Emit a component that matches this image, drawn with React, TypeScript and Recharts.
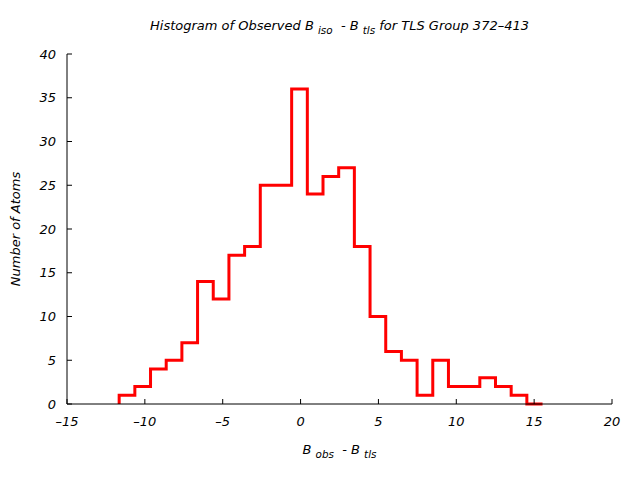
import { LineChart, Line, XAxis, YAxis } from 'recharts';

// histogram bins: fixed-width bins starting just left of -11.5
const binStart = -11.65;
const binWidth = 1.007;
const counts = [1, 2, 4, 5, 7, 14, 12, 17, 18, 25, 25, 36, 24, 26, 27, 18, 10, 6, 5, 1, 5, 2, 2, 3, 2, 1, 0];

const xTicks = [-15, -10, -5, 0, 5, 10, 15, 20];
const yTicks = [0, 5, 10, 15, 20, 25, 30, 35, 40];

const FONT = '"DejaVu Sans", Verdana, sans-serif';

// step outline: start at baseline, then one point per bin left edge, close at last right edge
const steps = [
  { x: binStart, y: 0 },
  ...counts.map((c, i) => ({ x: binStart + i * binWidth, y: c })),
  { x: binStart + counts.length * binWidth, y: counts[counts.length - 1] },
];

const tickStyle = { fill: '#000', fontSize: 13, fontStyle: 'italic', fontFamily: FONT };
const sub = { fontSize: '0.8em', position: 'relative' as const, top: '0.35em' };
const fmt = (v: number) => String(v).replace('-', '\u2013');

export default function App() {
  return (
    <div style={{ position: 'absolute', left: 0, top: 0, width: 640, height: 480, fontFamily: FONT, fontStyle: 'italic', color: '#000', background: '#fff' }}>
      <LineChart width={640} height={480} data={steps} margin={{ top: 54, right: 28, bottom: 46, left: 0 }}>
        <XAxis
          xAxisId="bottom"
          dataKey="x"
          type="number"
          domain={[-15, 20]}
          ticks={xTicks}
          tickFormatter={fmt}
          height={30}
          stroke="#000"
          tickSize={-5}
          tickMargin={18}
          tick={tickStyle}
          allowDataOverflow
        />
        <XAxis
          xAxisId="top"
          orientation="top"
          dataKey="x"
          type="number"
          domain={[-15, 20]}
          ticks={xTicks}
          height={0}
          stroke="#000"
          tickSize={-5}
          tick={false}
        />
        <YAxis
          yAxisId="left"
          type="number"
          domain={[0, 40]}
          ticks={yTicks}
          width={67}
          stroke="#000"
          tickSize={-5}
          tickMargin={16}
          tick={tickStyle}
        />
        <YAxis
          yAxisId="right"
          orientation="right"
          type="number"
          domain={[0, 40]}
          ticks={yTicks}
          width={0}
          stroke="#000"
          tickSize={-5}
          tick={false}
        />
        <Line
          xAxisId="bottom"
          yAxisId="left"
          dataKey="y"
          type="stepAfter"
          stroke="#ff0000"
          strokeWidth={3}
          strokeLinejoin="miter"
          dot={false}
          isAnimationActive={false}
        />
      </LineChart>

      <div style={{ position: 'absolute', left: 67, width: 545, top: 18, textAlign: 'center', fontSize: 13, whiteSpace: 'nowrap' }}>
        Histogram of Observed B <span style={sub}>iso</span>&nbsp; - B <span style={sub}>tls</span> for TLS Group 372&#8211;413
      </div>
      <div style={{ position: 'absolute', left: 67, width: 545, top: 442, textAlign: 'center', fontSize: 13, whiteSpace: 'nowrap' }}>
        B <span style={sub}>obs</span>&nbsp; - B <span style={sub}>tls</span>
      </div>
      <div style={{ position: 'absolute', left: 15, top: 229, transform: 'translate(-50%, -50%) rotate(-90deg)', fontSize: 13, whiteSpace: 'nowrap' }}>
        Number of Atoms
      </div>
    </div>
  );
}
